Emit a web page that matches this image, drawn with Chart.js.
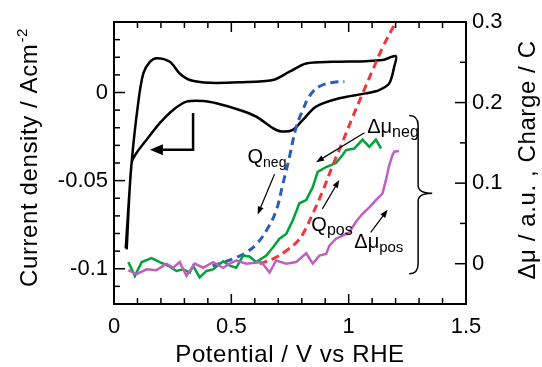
<!DOCTYPE html>
<html>
<head>
<meta charset="utf-8">
<script src="https://cdn.jsdelivr.net/npm/chart.js@4/dist/chart.umd.min.js"></script>
<style>
html, body { margin: 0; padding: 0; background: #fff; }
#wrap { width: 542px; height: 367px; }
</style>
</head>
<body>
<div id="wrap"><canvas id="chart"></canvas></div>
<script>
// cyclic voltammogram, left axis (A/cm2)
const cvPotential = [0.050, 0.075, 0.103, 0.125, 0.153, 0.183, 0.238, 0.280, 0.323, 0.408, 0.535, 0.677, 0.748, 0.819, 0.932, 1.074, 1.144, 1.201,
  1.194, 1.173, 1.130, 1.074, 0.960, 0.861, 0.805, 0.762, 0.713, 0.677, 0.606, 0.535, 0.436, 0.380, 0.309, 0.252, 0.195, 0.139, 0.096, 0.075, 0.054]
const cvCurrent = [-0.0884, -0.040, -0.006, 0.0108, 0.0174, 0.0195, 0.0174, 0.0108, 0.0071, 0.0055, 0.0058, 0.0071, 0.0118, 0.0165, 0.0174, 0.0178, 0.0184, 0.0206,
  0.0146, 0.0052, 0.0014, -0.0005, -0.0033, -0.0080, -0.0155, -0.0212, -0.0221, -0.0202, -0.0137, -0.0099, -0.0061, -0.0048, -0.0052, -0.0099, -0.0174, -0.0268, -0.0343, -0.040, -0.089]

// charges, right axis (C)
const qNegPotential = [0.42, 0.465, 0.521, 0.564, 0.606, 0.649, 0.691, 0.720, 0.748, 0.776, 0.805, 0.833, 0.875, 0.932, 0.982]
const qNegCharge = [-0.0025, 0.0016, 0.0079, 0.0141, 0.024, 0.041, 0.066, 0.0996, 0.133, 0.169, 0.191, 0.208, 0.220, 0.225, 0.226]
const qPosPotential = [0.62, 0.677, 0.734, 0.776, 0.805, 0.847, 0.889, 0.932, 0.975, 1.017, 1.059, 1.102, 1.144, 1.201]
const qPosCharge = [0.0, 0.006, 0.016, 0.026, 0.037, 0.062, 0.090, 0.122, 0.152, 0.182, 0.211, 0.240, 0.268, 0.300]

// delta mu, right axis (a.u.)
const muNegPotential = [0.061, 0.089, 0.118, 0.160, 0.195, 0.231, 0.266, 0.295, 0.323, 0.337, 0.365, 0.394, 0.422, 0.465, 0.493, 0.521, 0.550, 0.578, 0.606,
  0.649, 0.677, 0.705, 0.734, 0.762, 0.790, 0.819, 0.847, 0.868, 0.904, 0.946, 0.974, 0.989, 1.024, 1.059, 1.088, 1.116, 1.138]
const muNeg = [0.002, -0.015, 0.002, 0.007, 0.002, -0.0025, -0.009, -0.007, -0.011, -0.0025, -0.017, -0.009, -0.007, 0.003, -0.0025, -0.005, 0.010, 0.009, 0.002,
  0.010, 0.020, 0.031, 0.037, 0.054, 0.075, 0.079, 0.095, 0.114, 0.120, 0.125, 0.135, 0.141, 0.143, 0.154, 0.145, 0.154, 0.143]
const muPosPotential = [0.061, 0.096, 0.139, 0.181, 0.224, 0.252, 0.280, 0.309, 0.344, 0.380, 0.422, 0.465, 0.493, 0.521, 0.564, 0.628, 0.663, 0.691, 0.734,
  0.776, 0.819, 0.847, 0.875, 0.904, 0.918, 0.946, 0.974, 1.003, 1.031, 1.059, 1.088, 1.116, 1.144, 1.159, 1.173, 1.187, 1.194, 1.215]
const muPos = [-0.008, -0.013, -0.007, -0.008, 0.000, -0.005, 0.002, -0.015, 0.000, -0.005, 0.002, -0.005, 0.000, 0.004, 0.000, 0.002, -0.011, 0.004, 0.000,
  0.002, 0.013, 0.000, 0.010, 0.012, 0.0225, 0.031, 0.035, 0.039, 0.052, 0.062, 0.070, 0.079, 0.087, 0.104, 0.1225, 0.135, 0.139, 0.140]

const xTicks = [0, 0.5, 1, 1.5]
const yTicks = [-0.1, -0.05, 0]
const y1Ticks = [0, 0.1, 0.2, 0.3]

const FONT = "'Liberation Sans', Arial, sans-serif"

function pts(xs, ys) {
  return xs.map((x, i) => ({x: x, y: ys[i]}))
}
function setTicks(list) {
  return scale => { scale.ticks = list.map(v => ({value: v})) }
}
function fmt(v) {
  return String(Math.round(v * 1000) / 1000)
}

function line(ctx, x1, y1, x2, y2) {
  ctx.beginPath()
  ctx.moveTo(x1, y1)
  ctx.lineTo(x2, y2)
  ctx.stroke()
}

function arrow(ctx, x1, y1, x2, y2, head, half) {
  const ang = Math.atan2(y2 - y1, x2 - x1)
  line(ctx, x1, y1, x2 - Math.cos(ang) * head * 0.8, y2 - Math.sin(ang) * head * 0.8)
  ctx.beginPath()
  ctx.moveTo(x2, y2)
  ctx.lineTo(x2 - Math.cos(ang) * head + Math.sin(ang) * half, y2 - Math.sin(ang) * head - Math.cos(ang) * half)
  ctx.lineTo(x2 - Math.cos(ang) * head - Math.sin(ang) * half, y2 - Math.sin(ang) * head + Math.cos(ang) * half)
  ctx.closePath()
  ctx.fill()
}

// labels with subscripts, placed in (V, right axis) units
const notes = [
  {main: 'Q', sub: 'neg', x: 0.569, y: 0.125, size: 14},
  {main: '\u0394\u03bc', sub: 'neg', x: 1.079, y: 0.1625, size: 16},
  {main: 'Q', sub: 'pos', x: 0.841, y: 0.040, size: 16},
  {main: '\u0394\u03bc', sub: 'pos', x: 1.024, y: 0.019, size: 15}
]
const pointers = [
  [0.684, 0.111, 0.612, 0.061],
  [1.067, 0.1625, 0.861, 0.126],
  [0.888, 0.068, 0.960, 0.104],
  [1.094, 0.039, 1.166, 0.067]
]

const decor = {
  id: 'decor',
  afterDraw(chart) {
    const {ctx, chartArea: a, scales} = chart
    const sx = scales.x, sy = scales.y, sy1 = scales.y1
    ctx.save()
    ctx.strokeStyle = '#000'
    ctx.fillStyle = '#000'

    // frame + inward ticks
    ctx.lineWidth = 2
    ctx.strokeRect(a.left, a.top, a.right - a.left, a.bottom - a.top)
    ctx.lineWidth = 1.5
    for (let i = 0; i <= 15; i++) {
      const px = sx.getPixelForValue(i / 10)
      const len = i % 5 === 0 ? 10 : 6
      line(ctx, px, a.bottom, px, a.bottom - len)
      line(ctx, px, a.top, px, a.top + len)
    }
    for (let i = -12; i <= 4; i++) {
      const py = sy.getPixelForValue(i / 100)
      const len = i % 5 === 0 ? 11 : 6
      line(ctx, a.left, py, a.left + len, py)
    }
    for (let i = -1; i <= 6; i++) {
      const py = sy1.getPixelForValue(i * 0.05)
      const len = i % 2 === 0 ? 11 : 6
      line(ctx, a.right, py, a.right - len, py)
    }

    // axis titles
    ctx.letterSpacing = '0.6px'
    ctx.font = '24px ' + FONT
    ctx.textAlign = 'center'
    ctx.textBaseline = 'alphabetic'
    ctx.fillText('Potential / V vs RHE', (a.left + a.right) / 2, 362)

    ctx.save()
    ctx.translate(37, 158)
    ctx.rotate(-Math.PI / 2)
    ctx.textAlign = 'left'
    ctx.font = '24px ' + FONT
    const t1 = 'Current density / Acm'
    const w1 = ctx.measureText(t1).width
    ctx.font = '15px ' + FONT
    const w2 = ctx.measureText('-2').width
    ctx.font = '24px ' + FONT
    ctx.fillText(t1, -(w1 + w2) / 2, 0)
    ctx.font = '15px ' + FONT
    ctx.fillText('-2', -(w1 + w2) / 2 + w1 + 1, -10)
    ctx.restore()

    ctx.save()
    ctx.translate(535, 160)
    ctx.rotate(-Math.PI / 2)
    ctx.font = '24px ' + FONT
    ctx.textAlign = 'center'
    ctx.fillText('\u0394\u03bc / a.u. , Charge / C', 0, 0)
    ctx.restore()
    ctx.letterSpacing = '0px'

    // L-shaped arrow pointing to the left axis
    ctx.lineWidth = 2.5
    const ax = sx.getPixelForValue(0.337)
    const ay1 = sy.getPixelForValue(-0.0116)
    const ay2 = sy.getPixelForValue(-0.0325)
    const tip = sx.getPixelForValue(0.153)
    ctx.beginPath()
    ctx.moveTo(ax, ay1)
    ctx.lineTo(ax, ay2)
    ctx.lineTo(tip + 10, ay2)
    ctx.stroke()
    ctx.beginPath()
    ctx.moveTo(tip, ay2)
    ctx.lineTo(tip + 13, ay2 - 5.5)
    ctx.lineTo(tip + 13, ay2 + 5.5)
    ctx.closePath()
    ctx.fill()

    // thin pointers
    ctx.lineWidth = 1.2
    pointers.forEach(p => {
      arrow(ctx, sx.getPixelForValue(p[0]), sy1.getPixelForValue(p[1]),
        sx.getPixelForValue(p[2]), sy1.getPixelForValue(p[3]), 8, 3)
    })

    // labels
    ctx.textAlign = 'left'
    notes.forEach(n => {
      const px = sx.getPixelForValue(n.x), py = sy1.getPixelForValue(n.y)
      ctx.font = '20px ' + FONT
      ctx.fillText(n.main, px, py)
      const w = ctx.measureText(n.main).width
      ctx.font = n.size + 'px ' + FONT
      ctx.fillText(n.sub, px + w, py + 4)
    })

    // brace grouping the right-axis curves
    const b0 = sx.getPixelForValue(1.258), b1 = sx.getPixelForValue(1.296), b2 = sx.getPixelForValue(1.356)
    const bt = sy1.getPixelForValue(0.184), bm = sy1.getPixelForValue(0.0875), bb = sy1.getPixelForValue(-0.0125)
    ctx.lineWidth = 1.5
    ctx.beginPath()
    ctx.moveTo(b0, bt)
    ctx.quadraticCurveTo(b1, bt, b1, bt + 10)
    ctx.lineTo(b1, bm - 8)
    ctx.quadraticCurveTo(b1, bm, b2, bm)
    ctx.quadraticCurveTo(b1, bm, b1, bm + 8)
    ctx.lineTo(b1, bb - 10)
    ctx.quadraticCurveTo(b1, bb, b0, bb)
    ctx.stroke()

    ctx.restore()
  }
}

Chart.defaults.color = '#000'
Chart.defaults.font.family = FONT

new Chart(document.getElementById('chart'), {
  type: 'scatter',
  data: {
    datasets: [
      {data: pts(muPosPotential, muPos), yAxisID: 'y1', showLine: true, borderColor: '#c05fc0', borderWidth: 2.5, tension: 0, pointRadius: 0},
      {data: pts(qPosPotential, qPosCharge), yAxisID: 'y1', showLine: true, borderColor: '#f0373c', borderWidth: 3, borderDash: [8, 5], tension: 0.4, pointRadius: 0},
      {data: pts(muNegPotential, muNeg), yAxisID: 'y1', showLine: true, borderColor: '#00a23a', borderWidth: 2.5, tension: 0, pointRadius: 0},
      {data: pts(qNegPotential, qNegCharge), yAxisID: 'y1', showLine: true, borderColor: '#2a5cb8', borderWidth: 3, borderDash: [8, 5], tension: 0.4, pointRadius: 0},
      {data: pts(cvPotential, cvCurrent), yAxisID: 'y', showLine: true, borderColor: '#000', borderWidth: 2.5, tension: 0.3, pointRadius: 0}
    ]
  },
  options: {
    responsive: true,
    maintainAspectRatio: false,
    animation: false,
    layout: {padding: {top: 22, left: 0, right: 0, bottom: 0}},
    plugins: {legend: {display: false}, tooltip: {enabled: false}},
    scales: {
      x: {
        type: 'linear', position: 'bottom', min: 0, max: 1.5,
        afterBuildTicks: setTicks(xTicks),
        afterFit: s => { s.height = 63 },
        grid: {display: false, drawTicks: false}, border: {display: false},
        ticks: {font: {size: 22}, padding: 10, maxRotation: 0, callback: v => fmt(v)}
      },
      y: {
        type: 'linear', position: 'left', min: -0.12, max: 0.04,
        afterBuildTicks: setTicks(yTicks),
        afterFit: s => { s.width = 114 },
        grid: {display: false, drawTicks: false}, border: {display: false},
        ticks: {font: {size: 22}, padding: 6, callback: v => fmt(v)}
      },
      y1: {
        type: 'linear', position: 'right', min: -0.05, max: 0.3,
        afterBuildTicks: setTicks(y1Ticks),
        afterFit: s => { s.width = 76 },
        grid: {display: false, drawTicks: false}, border: {display: false},
        ticks: {font: {size: 22}, padding: 6, callback: v => fmt(v)}
      }
    }
  },
  plugins: [decor]
})
</script>
</body>
</html>
